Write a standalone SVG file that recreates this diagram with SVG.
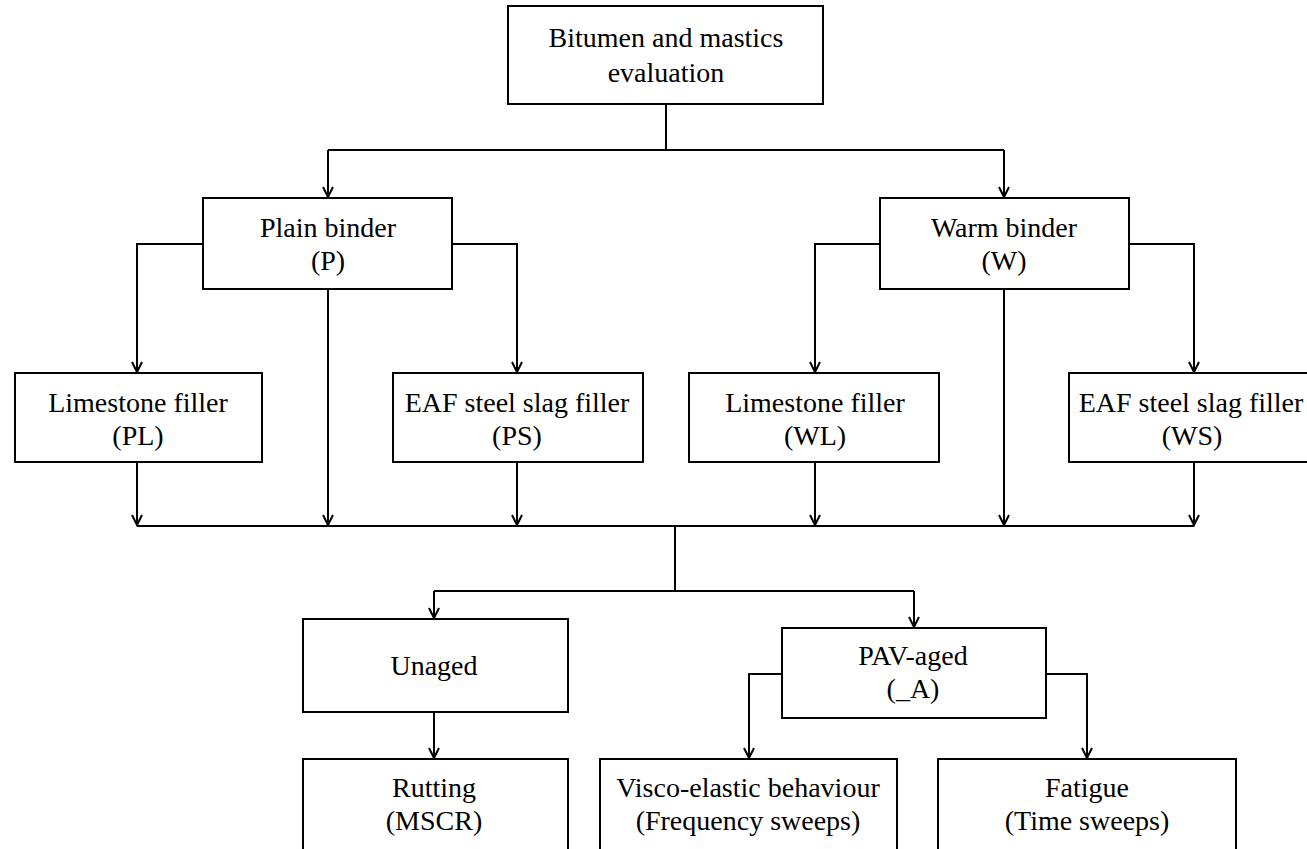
<svg xmlns="http://www.w3.org/2000/svg" width="1307" height="849" viewBox="0 0 1307 849" font-family="'Liberation Serif', 'Times New Roman', 'DejaVu Serif', serif">
<style>
.box{fill:#fff;stroke:#000;stroke-width:2}
.c{fill:none;stroke:#000;stroke-width:2}
.t{font-family:'Liberation Serif', 'Times New Roman', serif;font-size:28px;fill:#000;text-anchor:middle}
</style>
<defs>
<marker id="ah" markerUnits="userSpaceOnUse" markerWidth="14" markerHeight="14" viewBox="-12 -7 14 14" refX="0" refY="0" orient="auto">
<path d="M-10,-5 L0,0 L-10,5" fill="none" stroke="#000" stroke-width="2"/>
</marker>
</defs>
<rect width="1307" height="849" fill="#fff"/>
<g id="connectors">
<path class="c" d="M666,104 V150 M328,150 H1004"/>
<path class="c" d="M328,150 V197" marker-end="url(#ah)"/>
<path class="c" d="M1004,150 V197" marker-end="url(#ah)"/>
<path class="c" d="M203,244 H137 V372" marker-end="url(#ah)"/>
<path class="c" d="M452,244 H517 V372" marker-end="url(#ah)"/>
<path class="c" d="M328,289 V525" marker-end="url(#ah)"/>
<path class="c" d="M880,244 H815 V372" marker-end="url(#ah)"/>
<path class="c" d="M1129,244 H1194 V372" marker-end="url(#ah)"/>
<path class="c" d="M1004,289 V525" marker-end="url(#ah)"/>
<path class="c" d="M137,462 V525" marker-end="url(#ah)"/>
<path class="c" d="M517,462 V525" marker-end="url(#ah)"/>
<path class="c" d="M815,462 V525" marker-end="url(#ah)"/>
<path class="c" d="M1194,462 V525" marker-end="url(#ah)"/>
<path class="c" d="M137,526 H1194 M675,526 V591 M434,591 H914"/>
<path class="c" d="M434,591 V618" marker-end="url(#ah)"/>
<path class="c" d="M914,591 V627" marker-end="url(#ah)"/>
<path class="c" d="M434,712 V758" marker-end="url(#ah)"/>
<path class="c" d="M782,674 H749 V758" marker-end="url(#ah)"/>
<path class="c" d="M1046,674 H1087 V758" marker-end="url(#ah)"/>
</g>
<g id="n-root"><rect class="box" x="508" y="6" width="315" height="98"/><text class="t" x="666" y="47">Bitumen and mastics</text><text class="t" x="666" y="82">evaluation</text></g>
<g id="n-plain"><rect class="box" x="203" y="198" width="249" height="91"/><text class="t" x="328" y="237">Plain binder</text><text class="t" x="328" y="270">(P)</text></g>
<g id="n-warm"><rect class="box" x="880" y="198" width="249" height="91"/><text class="t" x="1004" y="237">Warm binder</text><text class="t" x="1004" y="270">(W)</text></g>
<g id="n-pl"><rect class="box" x="15" y="373" width="247" height="89"/><text class="t" x="138" y="412">Limestone filler</text><text class="t" x="138" y="445">(PL)</text></g>
<g id="n-ps"><rect class="box" x="393" y="373" width="250" height="89"/><text class="t" x="517" y="412">EAF steel slag filler</text><text class="t" x="517" y="445">(PS)</text></g>
<g id="n-wl"><rect class="box" x="689" y="373" width="250" height="89"/><text class="t" x="815" y="412">Limestone filler</text><text class="t" x="815" y="445">(WL)</text></g>
<g id="n-ws"><rect class="box" x="1069" y="373" width="260" height="89"/><text class="t" x="1191" y="412">EAF steel slag filler</text><text class="t" x="1192" y="445">(WS)</text></g>
<g id="n-unaged"><rect class="box" x="303" y="619" width="265" height="93"/><text class="t" x="434" y="675">Unaged</text></g>
<g id="n-pav"><rect class="box" x="782" y="628" width="264" height="90"/><text class="t" x="913" y="665">PAV-aged</text><text class="t" x="913" y="698">(_A)</text></g>
<g id="n-rut"><rect class="box" x="303" y="759" width="265" height="110"/><text class="t" x="434" y="797">Rutting</text><text class="t" x="434" y="830">(MSCR)</text></g>
<g id="n-visco"><rect class="box" x="600" y="759" width="297" height="110"/><text class="t" x="748" y="797">Visco-elastic behaviour</text><text class="t" x="748" y="830">(Frequency sweeps)</text></g>
<g id="n-fatigue"><rect class="box" x="938" y="759" width="298" height="110"/><text class="t" x="1087" y="797">Fatigue</text><text class="t" x="1087" y="830">(Time sweeps)</text></g>
</svg>
